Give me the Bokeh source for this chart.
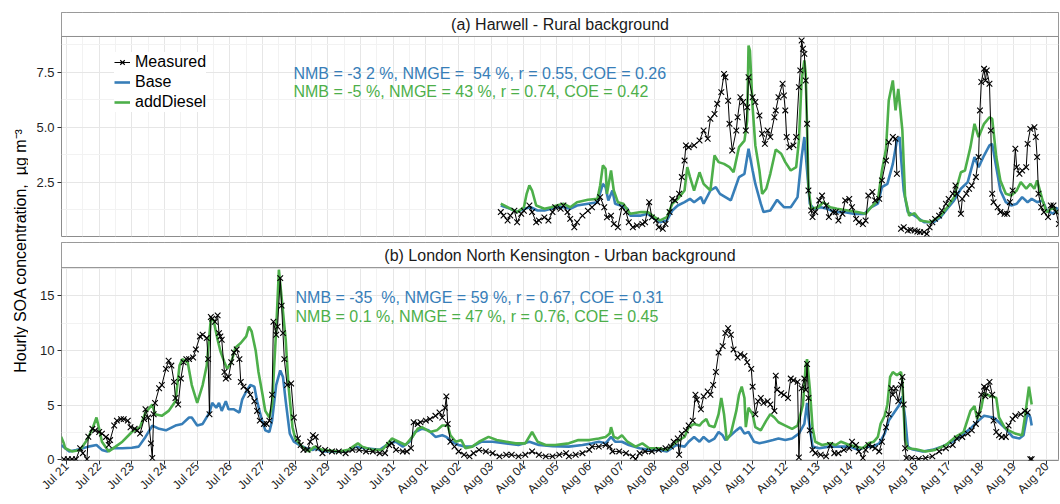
import numpy as np
import pandas as pd
from math import pi
from bokeh.plotting import figure
from bokeh.layouts import row, column
from bokeh.models import (Range1d, FixedTicker, DatetimeTickFormatter, PrintfTickFormatter,
                          BoxAnnotation, Label, Legend, LegendItem)
from bokeh.embed import file_html
from bokeh.resources import INLINE

nan = float("nan")
START = pd.Timestamp("2012-07-21 00:00")   # hours below are counted from this moment

# ---------------- (a) Harwell ----------------
A_MEAS_H = [319,321,324,326,329,331,334,336,340,342,
            345,347,351,354,357,359,363,365,368,370,
            373,375,379,383,386,390,392,395,397,400,
            402,405,408,411,413,416,419,423,425,428,
            430,433,435,438,440,443,445,447,450,452,
            454,455,457,461,465,468,471,473,476,478,
            481,483,484,486,487,489,492,493,495,497,
            499,500,501,504,506,509,511,513,515,517,
            520,521,523,526,527,528,529,531,534,536,
            538,539,540,541,542,543,544,545,547,548,
            550,553,555,558,560,563,565,567,570,572,
            575,577,580,582,585,587,589,592,594,597,
            599,602,604,607,609,610,611,613,615,618,
            620,623,625,627,630,632,634,636,638,641,
            643,646,648,651,653,654,657,658,661,663,
            665,668,670,671,672,674,675,676,678,679,
            680,681,684,686,689,691,693,695,697,698,
            700,702,705,706,708,711,712,713,714,716,
            718,721,723,725,727,729]
A_MEAS_V = [1.14,0.98,0.76,0.98,1.2,0.68,1.06,1.2,1.44,1.14,
            0.68,0.76,0.9,0.76,1.14,1.36,1.29,1.44,1.14,0.83,
            0.45,0.68,0.98,1.2,1.36,1.59,1.82,1.36,0.9,0.98,
            0.6,0.45,1.36,1.14,0.68,0.45,0.53,0.6,0.68,1.59,
            0.9,0.76,0.45,0.38,0.6,1.14,1.74,1.67,1.97,2.73,
            3.48,4.17,4.09,4.17,4.39,4.85,4.47,5.38,5.6,6.06,
            6.59,7.42,7.27,6.2,5.15,3.94,4.85,5.45,6.36,6.14,
            4.85,5.9,7.27,6.36,6.14,5.53,4.7,4.24,4.85,4.55,
            5.45,5.76,6.36,6.97,6.44,5.76,4.55,4.09,4.17,4.55,
            6.82,7.58,8.94,8.56,8.33,7.12,5.15,2.12,1.21,0.91,
            1.14,1.67,1.89,1.44,0.91,1.14,1.14,0.76,1.06,1.67,
            1.74,1.36,0.83,0.68,0.6,0.76,1.89,2.05,1.67,1.74,
            2.58,3.48,4.32,4.55,4.47,2.88,nan,0.38,0.45,0.3,
            0.33,0.3,0.26,0.23,0.23,0.15,0.45,0.68,0.83,0.98,
            1.21,1.52,1.74,1.97,2.35,1.97,1.06,1.74,1.97,2.2,
            2.35,2.73,3.64,5.76,7.05,7.65,7.12,7.58,6.97,4.85,
            1.97,1.59,1.36,1.14,1.06,1.06,1.59,2.12,4.02,3.18,
            2.88,3.03,3.18,4.24,4.92,5.0,4.55,3.64,1.97,1.36,
            1.14,0.91,1.44,1.44,1.14,0.6]

A_BASE_H = [319,326,331,336,341,346,351,356,360,365,370,375,383,390,394,396,398,401,403,407,
            412,414,422,427,432,436,441,445,449,454,458,461,466,468,473,477,480,484,488,491,
            494,498,501,504,506,510,512,517,522,527,532,537,540,542,544,546,549,554,559,564,
            571,578,586,591,596,599,603,607,610,612,613,615,618,623,630,637,642,647,652,657,
            662,667,670,674,678,680,683,686,690,694,698,702,706,709,713,717,720,725,728]
A_BASE_V = [1.44,1.29,1.14,1.29,1.36,1.21,1.21,1.29,1.36,1.36,1.29,1.44,1.52,1.59,2.42,2.27,1.67,2.12,1.52,1.44,
            1.29,0.98,0.98,1.06,0.83,0.68,0.76,1.21,1.44,1.59,1.74,1.59,1.82,1.52,2.12,2.27,1.97,1.82,1.67,2.2,
            2.73,2.88,4.02,3.03,2.42,1.52,1.14,1.21,1.7,1.36,1.36,1.82,3.64,4.55,3.03,1.52,1.29,1.36,1.29,1.14,
            1.14,1.06,1.06,1.36,1.52,2.27,2.42,3.33,4.39,4.55,3.64,2.12,1.14,0.98,0.68,0.68,0.91,1.29,1.67,2.2,
            2.5,3.64,3.18,3.71,4.17,4.24,3.18,2.12,1.59,1.44,1.52,1.82,1.59,1.74,1.59,1.67,1.21,1.06,1.36]

A_DIESEL_H = [319,324,331,336,338,340,342,345,351,356,360,365,370,375,383,390,392,394,396,397,
              400,402,405,409,414,422,427,432,436,441,445,449,454,456,458,461,465,468,473,476,
              479,483,487,490,494,498,500,501,502,504,506,509,511,514,517,521,525,528,532,536,
              538,540,542,543,544,545,547,552,556,561,566,574,581,587,591,596,599,602,604,607,
              609,611,614,616,619,623,627,635,642,647,652,657,660,664,667,670,674,678,680,683,
              686,690,694,698,701,705,708,711,713,717,720,725,728]
A_DIESEL_V = [1.52,1.36,1.14,1.36,1.97,2.35,2.12,1.44,1.29,1.36,1.44,1.52,1.36,1.59,1.7,1.74,2.35,3.26,3.11,1.97,
              3.03,2.12,1.59,1.52,1.06,1.14,1.14,0.91,0.76,0.91,1.52,1.74,2.12,3.18,2.73,2.12,2.95,2.42,2.12,3.71,
              3.41,3.33,3.18,2.95,4.09,4.39,5.3,8.71,8.48,5.91,4.17,3.03,1.97,2.2,2.88,3.98,3.79,3.41,3.03,3.18,
              4.39,7.12,8.03,7.42,5.0,2.27,1.29,1.36,1.59,1.36,1.29,1.21,1.14,1.06,1.36,1.67,3.03,4.02,6.21,7.12,
              5.76,6.74,4.85,1.82,0.98,1.09,0.76,0.68,0.98,1.36,1.82,2.95,3.03,4.09,5.15,4.55,5.15,5.45,5.38,3.64,
              2.58,1.97,1.89,2.12,2.5,2.2,2.42,2.2,2.58,1.67,1.14,1.36,1.06]

# ---------------- (b) London North Kensington ----------------
B_MEAS_H = [-2,1,4,7,10,12,15,16,19,21,
            24,26,29,31,32,35,37,40,42,45,
            47,50,52,54,57,58,60,62,63,64,
            65,68,70,73,75,77,79,80,82,84,
            86,88,90,93,95,98,100,103,104,105,
            106,107,109,111,112,113,114,116,117,119,
            121,123,125,127,128,130,133,135,138,140,
            142,145,147,149,151,152,154,155,157,158,
            159,160,162,165,167,170,172,174,177,179,
            181,183,185,188,190,195,200,205,210,215,
            220,225,230,234,237,239,242,247,250,253,
            255,258,260,264,267,271,274,276,278,279,
            280,282,285,288,292,296,299,303,308,313,
            318,323,327,332,337,342,347,352,357,362,
            367,369,374,379,384,386,391,396,399,401,
            406,411,416,418,421,425,430,435,440,444,
            446,449,450,452,455,457,460,462,463,466,
            468,471,473,475,477,479,482,484,486,488,
            490,493,495,498,500,503,504,506,508,510,
            512,515,517,520,521,522,525,527,530,532,
            534,537,538,540,542,543,544,545,546,548,
            550,554,558,561,564,567,571,575,577,580,
            582,585,587,589,592,594,597,599,602,604,
            606,607,609,611,613,614,615,616,617,621,
            626,631,636,641,646,651,654,658,662,665,
            668,670,672,674,675,676,678,680,681,683,
            685,687,690,692,695,697,701,704,706,707,
            708,709]
B_MEAS_V = [0.05,0.05,0.05,0.05,1.05,0.6,0.05,2.1,2.83,2.69,
            2.54,2.39,2.09,1.35,1.8,3.13,3.58,3.72,3.72,3.58,
            2.98,2.83,2.69,2.39,3.72,4.62,3.87,1.5,0.16,4.17,
            5.2,6.54,6.84,8.32,9.06,8.62,7.13,5.65,5.06,7.43,
            8.92,9.21,9.21,9.36,10.1,11.29,11.44,11.14,9.21,4.17,
            13.07,12.92,12.63,13.22,11.59,11.29,10.99,8.03,7.43,7.58,
            8.92,9.81,10.1,9.21,7.13,6.69,6.4,5.95,5.36,4.47,
            3.58,3.28,3.28,3.58,5.95,12.63,11.44,12.18,16.63,14.11,
            11.59,9.21,6.84,6.98,3.87,1.94,1.35,0.9,0.9,1.65,
            2.24,2.09,1.05,0.6,0.9,0.76,0.76,0.6,0.9,0.9,
            0.76,0.76,0.6,0.6,1.35,1.5,0.9,0.76,0.76,1.05,
            3.43,3.28,3.43,3.58,3.72,4.02,4.32,3.87,4.76,5.8,
            3.28,1.65,1.2,0.76,0.46,0.31,0.6,0.9,0.76,0.6,
            0.31,0.46,0.46,0.31,0.46,0.76,0.46,0.31,0.31,0.46,
            0.6,0.31,0.46,0.6,0.9,1.2,1.2,1.35,1.2,0.76,
            0.76,0.6,0.31,0.05,0.6,0.76,0.76,0.9,1.05,1.2,
            1.65,1.94,0.46,2.39,2.69,3.13,3.58,5.95,5.5,4.62,
            5.8,6.25,5.95,6.84,8.03,9.81,10.4,11.59,12.04,11.44,
            10.1,9.36,9.66,9.51,8.92,8.32,6.69,4.17,5.36,5.65,
            5.2,5.36,5.06,4.47,7.7,6.4,6.1,5.95,5.65,7.43,
            7.28,7.13,0.2,6.54,7.43,6.4,8.77,5.65,2.69,0.9,
            0.6,0.46,0.31,1.35,0.6,0.6,0.9,1.05,1.65,1.35,
            0.76,0.16,0.9,1.35,1.2,1.05,0.76,1.65,2.98,4.17,
            6.54,5.95,6.54,5.36,6.84,7.58,5.06,1.05,0.16,0.16,
            0.07,0.16,0.31,0.76,1.05,1.35,1.94,2.09,2.39,2.69,
            3.28,4.17,5.95,6.69,5.8,6.54,7.13,5.95,3.58,2.54,
            2.24,2.09,2.09,3.13,3.72,4.02,4.17,4.47,4.32,nan,
            0.05,0.05]

B_BASE_H = [-4,2,7,12,16,22,26,30,34,41,48,53,58,63,68,73,80,85,90,92,
            96,100,105,107,110,112,114,117,119,123,127,129,132,135,138,140,143,146,149,151,
            154,157,159,161,164,167,171,176,181,183,188,195,205,212,220,230,237,242,247,252,
            256,261,266,271,276,279,283,288,293,298,305,313,323,332,340,347,357,369,379,386,
            391,396,400,403,408,413,421,428,435,441,448,454,457,461,465,468,472,476,479,482,
            484,488,492,495,498,501,505,509,514,519,523,528,533,538,542,544,545,547,548,553,
            560,567,575,582,587,592,597,601,604,608,612,614,616,618,621,629,636,643,651,658,
            665,670,674,678,681,685,690,695,700,703,706,708,709]
B_BASE_V = [1.35,0.76,0.9,1.05,1.2,1.35,0.9,0.76,1.05,1.05,1.1,1.2,2.09,3.13,2.83,2.69,3.13,3.28,3.87,3.87,
            3.13,3.28,4.32,5.2,4.76,5.2,4.47,5.36,4.62,4.62,4.32,5.5,6.25,6.84,6.69,5.36,3.87,2.69,2.54,3.58,
            6.84,8.18,7.58,5.36,2.39,1.65,1.35,1.05,0.9,1.05,0.76,0.76,0.76,1.2,1.05,0.9,1.5,1.65,1.2,1.65,
            2.54,2.83,2.69,2.09,2.24,2.09,1.65,1.35,1.2,1.2,1.65,1.65,1.5,1.35,1.65,1.35,1.25,1.2,1.35,1.5,
            1.65,1.5,2.09,1.65,1.65,1.35,1.05,0.9,0.9,0.76,1.35,1.2,1.65,2.09,1.65,2.09,1.65,1.94,2.54,2.24,
            1.8,2.24,2.69,2.98,2.39,2.54,1.65,1.5,1.65,1.8,1.94,1.8,1.94,2.39,3.28,5.2,3.87,2.09,1.2,1.05,
            1.2,1.2,1.2,0.9,1.2,1.2,1.5,2.39,3.58,4.32,5.06,5.8,3.87,1.2,0.96,0.76,0.9,1.2,1.65,2.24,
            2.98,3.58,4.02,3.93,3.87,3.43,2.83,2.09,1.94,2.24,4.32,3.87,3.13]

B_DIESEL_H = [-4,-2,-1,4,10,15,19,22,24,26,31,36,41,48,54,58,63,65,70,75,
              80,83,85,89,92,96,100,103,106,108,111,113,116,118,121,124,128,132,134,136,
              139,141,144,146,149,151,154,156,158,161,163,166,168,173,178,182,188,200,207,214,
              217,225,232,239,244,249,254,258,261,267,272,276,280,282,286,290,293,298,303,310,
              316,323,330,337,342,346,352,359,369,376,384,391,396,399,400,402,405,408,412,418,
              423,428,435,441,448,454,457,461,465,467,470,472,476,479,481,483,485,488,492,494,
              496,498,499,501,504,506,510,514,517,520,523,528,533,537,541,543,544,546,548,550,
              555,561,565,569,575,580,585,589,593,596,598,601,603,605,607,610,613,614,616,618,
              624,631,638,646,653,659,664,667,669,672,674,676,680,683,685,689,692,697,702,704,
              707,709]
B_DIESEL_V = [2.1,1.5,1.05,0.76,0.9,1.8,2.83,3.87,2.83,1.65,0.76,1.2,1.65,2.54,2.98,4.32,5.06,4.17,4.02,4.47,
              5.36,8.62,9.21,8.92,6.84,5.2,6.84,8.62,12.92,12.78,10.99,9.95,8.92,8.32,8.92,10.25,10.69,11.29,12.18,11.74,
              9.95,8.03,5.95,4.47,3.87,5.06,11.88,17.4,14.85,10.99,6.84,2.98,1.94,1.2,0.76,1.2,0.9,0.76,0.9,1.5,
              1.2,0.9,0.9,1.94,1.65,1.35,2.09,2.83,2.98,2.54,2.69,3.13,3.13,2.24,1.65,1.8,1.05,1.2,1.65,2.09,
              1.8,1.65,1.5,1.5,2.54,1.65,1.35,1.35,1.5,1.8,1.8,1.94,2.09,2.39,2.98,2.09,1.94,2.24,1.65,1.2,
              1.5,1.05,1.05,0.9,1.65,2.09,2.98,3.28,3.13,3.43,3.72,3.13,2.98,4.17,5.65,4.17,1.8,2.39,4.47,5.95,
              6.69,5.65,2.98,4.76,4.17,2.98,2.69,3.58,4.17,3.87,3.43,3.13,2.83,3.13,5.06,8.62,9.21,6.54,2.98,1.65,
              1.35,1.5,1.35,1.65,1.35,1.2,1.05,1.5,1.65,2.09,3.28,4.02,5.06,7.58,8.03,7.73,8.03,7.13,1.8,1.05,
              0.96,0.76,0.9,1.35,2.09,2.54,4.47,4.91,3.72,4.76,6.1,5.95,5.8,5.65,3.87,2.98,2.69,2.39,2.24,3.87,
              6.69,5.06]

NB = "\u00a0"
STATS_A = ["NMB = -3 2 %, NMGE = " + NB + "54 %, r = 0.55, COE = 0.26",
           "NMB = -5 %, NMGE = 43 %, r = 0.74, COE = 0.42"]
STATS_B = ["NMB = -35 " + NB + "%, NMGE = 59 %, r = 0.67, COE = 0.31",
           "NMB = 0.1 %, NMGE = 47 %, r = 0.76, COE = 0.45"]
TITLE_A = "(a) Harwell - Rural background"
TITLE_B = "(b) London North Kensington - Urban background"
YLABEL = "Hourly SOA concentration, " + NB + "µg m⁻³"
SERIES = ["Measured", "Base", "addDiesel"]

BLUE = "#377EB8"
GREEN = "#4DAF4A"
FONT = "Liberation Sans"
BORDER = "#8c8c8c"
TICKTXT = "#1f1f1f"
X0_H, X1_H = -3.7, 728.7


def to_dt(hours):
    return (START + pd.to_timedelta(np.asarray(hours, dtype=float), unit="h")).values


def ms(h):
    return (START + pd.Timedelta(hours=h)).value / 1e6


x_range = Range1d(start=ms(X0_H), end=ms(X1_H))
x_ticker = FixedTicker(ticks=[ms(24 * d) for d in range(0, 31)],
                       minor_ticks=[ms(24 * d + 12) for d in range(-1, 31)])


def panel(height, top_b, bot_b, y0, y1, yticks, yminor, yfmt, with_xaxis):
    p = figure(width=1032, height=height, x_range=x_range, y_range=Range1d(y0, y1),
               x_axis_type="datetime", x_axis_location=("below" if with_xaxis else None),
               output_backend="svg", toolbar_location=None,
               min_border_left=33, min_border_right=2,
               min_border_top=top_b, min_border_bottom=bot_b,
               background_fill_color="white", border_fill_color="white")
    p.outline_line_color = BORDER
    p.outline_line_width = 1
    yt = FixedTicker(ticks=yticks, minor_ticks=yminor)
    p.yaxis.ticker = yt
    p.ygrid.ticker = yt
    p.xgrid.ticker = x_ticker
    if yfmt:
        p.yaxis.formatter = PrintfTickFormatter(format=yfmt)
    for ax in p.yaxis:
        ax.axis_line_color = None
        ax.major_tick_out = 4
        ax.major_tick_in = 0
        ax.minor_tick_out = 0
        ax.minor_tick_in = 0
        ax.major_tick_line_color = "#333333"
        ax.major_label_text_font = FONT
        ax.major_label_text_font_size = "13px"
        ax.major_label_text_color = TICKTXT
        ax.major_label_standoff = 3
    if with_xaxis:
        ax = p.xaxis[0]
        ax.ticker = x_ticker
        ax.formatter = DatetimeTickFormatter(days="%b %d", months="%b %d", hours="%b %d",
                                             years="%b %d", hourmin="%b %d")
        ax.axis_line_color = None
        ax.major_tick_out = 4
        ax.major_tick_in = 0
        ax.minor_tick_out = 0
        ax.minor_tick_in = 0
        ax.major_tick_line_color = "#333333"
        ax.major_label_orientation = pi / 4
        ax.major_label_text_font = FONT
        ax.major_label_text_font_size = "12px"
        ax.major_label_text_color = TICKTXT
        ax.major_label_standoff = 0
    for g in p.grid:
        g.grid_line_color = "#e6e6e6"
        g.grid_line_width = 1
        g.minor_grid_line_color = "#f2f2f2"
        g.minor_grid_line_width = 1
    return p


def draw(p, mh, mv, bh, bv, dh, dv):
    rb = p.line(to_dt(bh), bv, line_color=BLUE, line_width=2.6)
    rd = p.line(to_dt(dh), dv, line_color=GREEN, line_width=2.6)
    rm = p.line(to_dt(mh), mv, line_color="black", line_width=1)
    rs = p.scatter(to_dt(mh), mv, marker="x", size=8, line_color="black", line_width=1.1)
    return rm, rs, rb, rd


def strip(p, bottom, top, title):
    p.add_layout(BoxAnnotation(bottom=bottom, fill_color="white", fill_alpha=1.0,
                               line_color=BORDER, line_width=1, line_alpha=1.0))
    p.add_layout(Label(x=(ms(X0_H) + ms(X1_H)) / 2, y=(bottom + top) / 2, text=title,
                       text_align="center", text_baseline="middle", text_font=FONT,
                       text_font_size="16px", text_color="#1a1a1a"))


def stats(p, h, ys, texts):
    for y, t, c in zip(ys, texts, [BLUE, GREEN]):
        p.add_layout(Label(x=ms(h), y=y, text=t, text_align="left", text_baseline="middle",
                           text_font=FONT, text_font_size="16px", text_color=c))


# panel (a): frame 12..236 px, strip 24 px on top
A_Y0, A_STRIP, A_Y1 = 0.03, 9.12, 10.21
pa = panel(239, 12, 3, A_Y0, A_Y1, [2.5, 5.0, 7.5], [1.25, 3.75, 6.25, 8.75], "%.1f", False)
rm, rs, rb, rd = draw(pa, A_MEAS_H, A_MEAS_V, A_BASE_H, A_BASE_V, A_DIESEL_H, A_DIESEL_V)
strip(pa, A_STRIP, A_Y1, TITLE_A)
stats(pa, 166.7, [7.44, 6.6], STATS_A)
legend = Legend(items=[LegendItem(label=SERIES[0], renderers=[rm, rs]),
                       LegendItem(label=SERIES[1], renderers=[rb]),
                       LegendItem(label=SERIES[2], renderers=[rd])],
                location=(53, 124), orientation="vertical",
                label_text_font=FONT, label_text_font_size="16px", label_text_color="black",
                glyph_width=16, glyph_height=20, label_height=20, label_standoff=5,
                spacing=0, padding=8, margin=0,
                border_line_color=None, background_fill_color="white", background_fill_alpha=1.0)
pa.add_layout(legend)

# panel (b): frame from 242 px down to the axis, strip 25 px on top
B_Y0, B_STRIP, B_Y1 = -0.07, 17.59, 19.89
pb = panel(265, 3, 30, B_Y0, B_Y1, [0, 5, 10, 15], [2.5, 7.5, 12.5, 17.5], None, True)
draw(pb, B_MEAS_H, B_MEAS_V, B_BASE_H, B_BASE_V, B_DIESEL_H, B_DIESEL_V)
strip(pb, B_STRIP, B_Y1, TITLE_B)
stats(pb, 168.2, [14.83, 13.09], STATS_B)

# y-axis title shared by both panels
lab = figure(width=28, height=504, x_range=Range1d(0, 1), y_range=Range1d(0, 1),
             x_axis_location=None, y_axis_location=None, toolbar_location=None,
             output_backend="svg", min_border=0, outline_line_color=None,
             border_fill_color="white", background_fill_color="white")
lab.grid.visible = False
lab.add_layout(Label(x=0.714, y=0.504, text=YLABEL, angle=pi / 2, text_align="center",
                     text_baseline="middle", text_font=FONT, text_font_size="16px",
                     text_color="black"))

layout = row(lab, column(pa, pb))
open("out.html", "w").write(file_html(layout, INLINE))
